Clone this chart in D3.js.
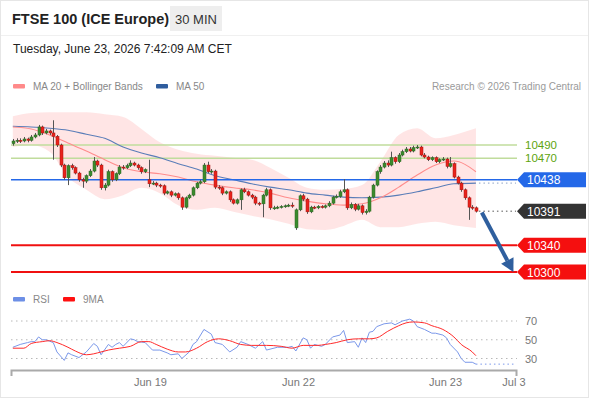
<!DOCTYPE html>
<html>
<head>
<meta charset="utf-8">
<script src="https://cdn.jsdelivr.net/npm/d3@7"></script>
<style>
  body { margin: 0; background: #fff; }
  svg { display: block; font-family: 'Liberation Sans', Arial, sans-serif; }
</style>
</head>
<body>
<svg width="590" height="400"></svg>
<script>
// 30 min candles, Jun 18 night -> Jun 23 morning
var open = [
  10492,10496,10497,10496,10499,10497,10502,10505,10517,10508,
  10511,10508,10503,10490,10460,10441,10459,10456,10448,10438,
  10436,10444,10451,10466,10460,10426,10430,10450,10438,10447,
  10457,10456,10459,10463,10460,10456,10450,10438,10432,10433,
  10430,10429,10418,10420,10415,10417,10411,10397,10411,10415,
  10426,10433,10435,10460,10450,10451,10427,10426,10418,10420,
  10408,10403,10408,10423,10420,10415,10412,10403,10402,10415,
  10423,10396,10396,10397,10398,10399,10400,10366,10393,10414,
  10409,10390,10397,10396,10398,10397,10399,10403,10412,10413,
  10420,10423,10396,10401,10394,10399,10389,10391,10412,10430,
  10450,10457,10463,10460,10471,10465,10475,10480,10484,10481,
  10486,10487,10475,10472,10468,10471,10465,10468,10469,10458,
  10462,10442,10433,10423,10411,10397,10396
];
var high = [
  10499,10500,10500,10502,10501,10505,10508,10520,10519,10514,
  10513,10527,10505,10492,10462,10461,10462,10458,10450,10441,
  10446,10454,10472,10468,10462,10433,10453,10452,10449,10460,
  10460,10462,10467,10465,10462,10458,10455,10468,10436,10435,
  10432,10431,10422,10422,10419,10419,10413,10413,10417,10428,
  10435,10438,10463,10465,10454,10453,10430,10428,10422,10422,
  10410,10410,10425,10426,10422,10417,10414,10405,10417,10426,
  10425,10399,10399,10400,10401,10402,10404,10395,10416,10417,
  10411,10399,10399,10400,10400,10401,10406,10414,10416,10423,
  10439,10425,10404,10403,10402,10401,10394,10414,10432,10452,
  10460,10466,10467,10480,10473,10478,10483,10487,10487,10489,
  10490,10489,10478,10474,10473,10473,10470,10472,10471,10472,
  10464,10444,10435,10425,10413,10400,10398
];
var low = [
  10489,10493,10493,10494,10494,10495,10500,10503,10505,10506,
  10505,10468,10487,10457,10438,10430,10453,10446,10435,10426,
  10433,10442,10449,10457,10423,10422,10428,10435,10436,10445,
  10453,10454,10457,10458,10453,10447,10448,10427,10430,10427,
  10426,10415,10416,10412,10413,10408,10393,10395,10409,10413,
  10424,10431,10433,10448,10447,10424,10423,10415,10416,10405,
  10401,10401,10393,10418,10413,10409,10400,10399,10382,10413,
  10393,10393,10394,10395,10396,10397,10396,10363,10391,10406,
  10387,10388,10394,10394,10395,10395,10397,10401,10410,10411,
  10418,10393,10394,10391,10392,10386,10386,10389,10410,10428,
  10447,10455,10457,10458,10462,10463,10473,10478,10479,10479,
  10484,10473,10470,10466,10466,10463,10463,10466,10455,10456,
  10440,10431,10420,10408,10378,10393,10389
];
var close = [
  10496,10497,10496,10499,10497,10502,10505,10517,10508,10511,
  10508,10503,10490,10460,10441,10459,10456,10448,10438,10436,
  10444,10451,10466,10460,10426,10430,10450,10438,10447,10457,
  10456,10459,10463,10460,10456,10450,10453,10432,10433,10430,
  10429,10418,10420,10415,10417,10411,10397,10411,10415,10426,
  10433,10435,10460,10450,10451,10427,10426,10418,10420,10408,
  10403,10408,10423,10420,10415,10412,10403,10402,10415,10423,
  10396,10396,10397,10398,10399,10400,10399,10393,10414,10409,
  10390,10397,10396,10398,10397,10399,10403,10412,10413,10420,
  10423,10396,10401,10394,10399,10389,10391,10412,10430,10450,
  10457,10463,10460,10471,10465,10475,10480,10484,10481,10486,
  10487,10475,10472,10468,10471,10465,10468,10469,10458,10462,
  10442,10433,10423,10411,10397,10396,10391
];

// indicators read at every 5th candle
var maIdx = [0,5,10,15,20,25,30,35,40,45,50,55,60,65,70,75,80,85,90,95,100,105,110,115,120,126];
var ma20 = [10517,10514,10505,10493,10481,10468,10456,10450,10447,10442,10435,10430,10426,10423,10418,10411,10406,10402,10400,10402,10411,10427,10445,10460,10466,10450];
var ma50 = [10518,10517,10515,10512,10506,10500,10487,10478,10471,10462,10454,10444,10438,10432,10427,10423,10418,10415,10412,10411,10412,10415,10420,10426,10432,10433];
var bbUpper = [10533,10538,10539,10539,10539,10536,10532,10514,10494,10483,10477,10474,10471,10468,10456,10441,10426,10423,10424,10430,10465,10505,10515,10500,10505,10515];
var bbLower = [10487,10490,10480,10442,10423,10409,10415,10426,10418,10400,10393,10396,10390,10384,10379,10372,10364,10363,10369,10378,10367,10367,10372,10375,10370,10366];

var rsiIdx = [0,2,4,5,6,7,8,9,11,12,14,15,16,18,20,22,23,24,26,27,28,29,30,32,33,34,36,38,40,42,43,45,46,48,49,50,52,54,55,57,59,61,62,64,66,68,69,72,75,76,77,79,80,81,82,84,85,87,89,90,91,93,94,95,96,97,98,99,101,103,104,106,108,109,110,112,114,115,117,118,119,121,122,123,125,126];
var rsiVal = [42,45,47,48,48,53,50,50,47,37,28,36,34,31,37,46,43,34,45,42,45,47,43,51,50,48,47,39,39,36,34,35,30,37,45,48,61,56,47,45,37,42,48,45,41,48,39,42,42,43,38,52,50,41,45,43,45,53,55,60,47,48,42,52,47,58,59,64,67,68,66,70,72,70,64,61,57,57,55,52,45,37,30,26,26,24];
var ma9Idx = [0,3,5,8,10,12,15,17,20,22,24,26,29,32,35,37,39,42,45,47,50,53,56,59,62,65,69,73,76,79,83,85,88,91,94,97,99,102,105,107,109,112,114,117,120,122,125,126];
var ma9Val = [41,41,46,48,49,47,42,38,34,35,37,39,41,43,48,48,45,40,37,37,41,48,51,49,45,44,44,43,41,44,44,45,47,50,51,51,52,59,65,68,69,68,65,61,53,45,37,33];

var resistances = [10490, 10470];
var pivot = 10438;
var supports = [10340, 10300];
var lastPrice = 10391;
var arrowFrom = [127.6, 10389];
var arrowTo = [136.2, 10300];

var rsiLevels = [70, 50, 30];
var xTickIdx = [37.3, 77.6, 117.6, 136.2];
var xTickLabels = ['Jun 19', 'Jun 22', 'Jun 23', 'Jul 3'];

var svg = d3.select('svg');
var left = 11, right = 516;

var x = d3.scaleLinear().domain([-0.5, 136.9]).range([left, right]);
var y = d3.scaleLinear().domain([10300, 10490]).range([272, 145]);
var yr = d3.scaleLinear().domain([30, 70]).range([358.5, 321]);

// frame + header
svg.append('rect').attr('x', 0.5).attr('y', 0.5).attr('width', 588).attr('height', 397)
  .attr('fill', 'none').attr('stroke', '#e6e6e6');
svg.append('line').attr('x1', 1).attr('x2', 588).attr('y1', 35.5).attr('y2', 35.5)
  .attr('stroke', '#f0f0f0');
svg.append('text').attr('x', 12).attr('y', 24).attr('font-size', 14.5).attr('font-weight', 'bold')
  .attr('fill', '#222').text('FTSE 100 (ICE Europe)');
svg.append('rect').attr('x', 170).attr('y', 6).attr('width', 52).attr('height', 25).attr('fill', '#eeeeee');
svg.append('text').attr('x', 196).attr('y', 23.5).attr('text-anchor', 'middle').attr('font-size', 13)
  .attr('fill', '#333').text('30 MIN');
svg.append('text').attr('x', 13).attr('y', 53).attr('font-size', 12).attr('fill', '#222')
  .text('Tuesday, June 23, 2026 7:42:09 AM CET');

// legends
function legend(items, ly) {
  var g = svg.append('g');
  items.forEach(function(it) {
    g.append('rect').attr('x', it[0]).attr('y', ly - 2).attr('width', 12).attr('height', 4.5)
      .attr('rx', 1).attr('fill', it[1]);
    g.append('text').attr('x', it[0] + 20).attr('y', ly + 3.5).attr('font-size', 10)
      .attr('fill', '#888').text(it[2]);
  });
}
legend([[13, '#ff8a8a', 'MA 20 + Bollinger Bands'], [156, '#2f5d9e', 'MA 50']], 86);
legend([[13, '#6d8fe6', 'RSI'], [63, '#ff1010', '9MA']], 299);
svg.append('text').attr('x', 581).attr('y', 89.5).attr('text-anchor', 'end').attr('font-size', 10)
  .attr('fill', '#9a9a9a').text('Research \u00a9 2026 Trading Central');

// bollinger band + moving averages
var band = maIdx.map(function(d, i) { return [d, bbUpper[i], bbLower[i]]; });
svg.append('path').datum(band)
  .attr('fill', '#ffdede').attr('opacity', 0.8)
  .attr('d', d3.area().curve(d3.curveMonotoneX)
    .x(function(d) { return x(d[0]); })
    .y0(function(d) { return y(d[2]); })
    .y1(function(d) { return y(d[1]); }));

// level lines
resistances.forEach(function(p) {
  svg.append('line').attr('x1', left).attr('x2', right + 1).attr('y1', y(p)).attr('y2', y(p))
    .attr('stroke', '#c0dc9c').attr('stroke-width', 1.5);
  svg.append('text').attr('x', 525).attr('y', y(p) + 4).attr('font-size', 11.5)
    .attr('fill', '#5ea40e').text(p);
});

var lineOf = function(vals) {
  return d3.line().curve(d3.curveMonotoneX)
    .x(function(d, i) { return x(maIdx[i]); })
    .y(function(d) { return y(d); })(vals);
};
svg.append('path').attr('d', lineOf(ma50)).attr('fill', 'none').attr('stroke', '#5a7db8').attr('stroke-width', 1.1);
svg.append('path').attr('d', lineOf(ma20)).attr('fill', 'none').attr('stroke', '#ff8c8c').attr('stroke-width', 1.1);

svg.append('line').attr('x1', left).attr('x2', right + 1).attr('y1', y(pivot)).attr('y2', y(pivot))
  .attr('stroke', '#2468e8').attr('stroke-width', 1.5);
supports.forEach(function(p) {
  svg.append('line').attr('x1', left).attr('x2', right + 1).attr('y1', y(p)).attr('y2', y(p))
    .attr('stroke', '#f01010').attr('stroke-width', 2);
});

// dotted extensions to the tags
var lastI = close.length - 1;
svg.append('line').attr('x1', x(lastI) + 3).attr('x2', right).attr('y1', y(ma50[ma50.length - 1]))
  .attr('y2', y(ma50[ma50.length - 1])).attr('stroke', '#8aa0c4').attr('stroke-dasharray', '1.5,3');
svg.append('line').attr('x1', x(lastI) + 3).attr('x2', right).attr('y1', y(lastPrice))
  .attr('y2', y(lastPrice)).attr('stroke', '#555').attr('stroke-dasharray', '1.5,3');

// candles
var candles = svg.append('g').selectAll('g')
  .data(d3.range(close.length))
  .enter()
  .append('g');
candles.append('line')
  .attr('x1', function(i) { return Math.round(x(i)) + 0.5; })
  .attr('x2', function(i) { return Math.round(x(i)) + 0.5; })
  .attr('y1', function(i) { return y(high[i]); })
  .attr('y2', function(i) { return y(low[i]); })
  .attr('stroke', '#555').attr('stroke-width', 1);
candles.append('rect')
  .attr('x', function(i) { return Math.round(x(i)) - 1; })
  .attr('width', 3)
  .attr('y', function(i) { return y(Math.max(open[i], close[i])); })
  .attr('height', function(i) { return Math.max(1, Math.abs(y(open[i]) - y(close[i]))); })
  .attr('fill', function(i) { return close[i] >= open[i] ? '#3b8a2e' : '#e8231c'; })
  .attr('stroke', function(i) { return close[i] >= open[i] ? '#2d6a22' : '#a81410'; })
  .attr('stroke-width', 0.5);

// forecast arrow
var ax0 = x(arrowFrom[0]), ay0 = y(arrowFrom[1]), ax1 = x(arrowTo[0]), ay1 = y(arrowTo[1]);
var ang = Math.atan2(ay1 - ay0, ax1 - ax0), headL = 13, headW = 7;
var bx = ax1 - headL * Math.cos(ang), by = ay1 - headL * Math.sin(ang);
svg.append('line').attr('x1', ax0).attr('y1', ay0).attr('x2', bx).attr('y2', by)
  .attr('stroke', '#2f5f9e').attr('stroke-width', 4);
svg.append('polygon')
  .attr('points', [[ax1, ay1],
    [bx + headW * Math.sin(ang), by - headW * Math.cos(ang)],
    [bx - headW * Math.sin(ang), by + headW * Math.cos(ang)]].join(' '))
  .attr('fill', '#2f5f9e');

// price tags
function tag(p, color) {
  var ty = y(p);
  svg.append('polygon')
    .attr('points', [[517, ty], [524, ty - 7.5], [586, ty - 7.5], [586, ty + 7.5], [524, ty + 7.5]].join(' '))
    .attr('fill', color);
  svg.append('text').attr('x', 527).attr('y', ty + 4.5).attr('font-size', 12)
    .attr('fill', '#fff').text(p);
}
tag(pivot, '#2468e8');
tag(lastPrice, '#333333');
supports.forEach(function(p) { tag(p, '#f50f0f'); });

// RSI panel
rsiLevels.forEach(function(v) {
  svg.append('line').attr('x1', left).attr('x2', right + 1).attr('y1', yr(v)).attr('y2', yr(v))
    .attr('stroke', '#b8b8b8').attr('stroke-dasharray', '1.5,3.5');
  svg.append('text').attr('x', 525).attr('y', yr(v) + 4).attr('font-size', 11)
    .attr('fill', '#777').text(v);
});
svg.append('path')
  .attr('d', d3.line().x(function(d, i) { return x(rsiIdx[i]); }).y(function(d) { return yr(d); })(rsiVal))
  .attr('fill', 'none').attr('stroke', '#7b98ea').attr('stroke-width', 1);
svg.append('line').attr('x1', x(rsiIdx[rsiIdx.length - 1])).attr('x2', right)
  .attr('y1', yr(rsiVal[rsiVal.length - 1])).attr('y2', yr(rsiVal[rsiVal.length - 1]))
  .attr('stroke', '#7b98ea').attr('stroke-dasharray', '1.5,3');
svg.append('path')
  .attr('d', d3.line().curve(d3.curveMonotoneX)
    .x(function(d, i) { return x(ma9Idx[i]); }).y(function(d) { return yr(d); })(ma9Val))
  .attr('fill', 'none').attr('stroke', '#ff2a2a').attr('stroke-width', 1);

// x axis
var xAxis = svg.append('g').attr('transform', 'translate(0,370)')
  .call(d3.axisBottom(x).tickValues(xTickIdx).tickSizeInner(0).tickSizeOuter(6).tickPadding(8)
    .tickFormat(function(d, i) { return xTickLabels[i]; }));
xAxis.select('.domain').attr('stroke', '#aaa').attr('stroke-width', 2);
xAxis.selectAll('text').attr('font-size', 11).attr('fill', '#777')
  .attr('font-family', "'Liberation Sans', Arial, sans-serif");
</script>
</body>
</html>
